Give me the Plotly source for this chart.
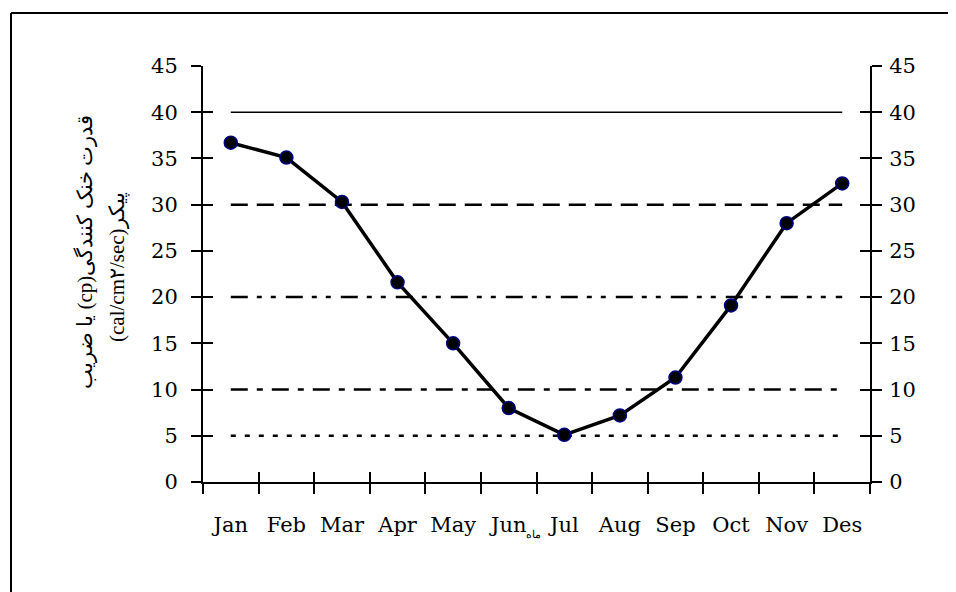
import plotly.graph_objects as go

months = ["Jan", "Feb", "Mar", "Apr", "May", "Jun", "Jul", "Aug", "Sep", "Oct", "Nov", "Des"]
cooling_power = [36.7, 35.1, 30.3, 21.6, 15.0, 8.0, 5.1, 7.2, 11.3, 19.1, 28.0, 32.3]
ref_levels = [40, 30, 20, 10, 5]
ref_dashes = ["solid", "17px,9px", "17px,9px,5px,9px,5px,10px", "17px,9px,6px,9px", "5px,9px"]
ref_widths = [1.5, 2.5, 2.5, 2.5, 2.5]
y_ticks = [0, 5, 10, 15, 20, 25, 30, 35, 40, 45]

FONT = "Liberation Serif, Times New Roman, serif"
TICKFONT = "DejaVu Serif, serif"

# page body has an 8px default margin; plot area should land at x 203..870, y 66..482
PL, PT, PW, PH = 203, 66, 667, 416

def px_x(x):
    return (x - PL) / PW

def px_y(y):
    return (PT + PH - y) / PH

fig = go.Figure()

for lvl, dsh, w in zip(ref_levels, ref_dashes, ref_widths):
    fig.add_trace(go.Scatter(
        x=[months[0], months[-1]], y=[lvl, lvl], mode="lines",
        line=dict(color="black", width=w, dash=dsh),
        showlegend=False, hoverinfo="skip"))

fig.add_trace(go.Scatter(
    x=months, y=cooling_power, mode="lines+markers",
    line=dict(color="black", width=3.5),
    marker=dict(size=13, color="black", line=dict(color="#000080", width=1.5)),
    showlegend=False))

# dummy traces to register overlay axes (for crossing ticks)
fig.add_trace(go.Scatter(x=[None], y=[None], xaxis="x2", yaxis="y2", showlegend=False, hoverinfo="skip"))
fig.add_trace(go.Scatter(x=[None], y=[None], xaxis="x2", yaxis="y3", showlegend=False, hoverinfo="skip"))
fig.add_trace(go.Scatter(x=[None], y=[None], xaxis="x2", yaxis="y4", showlegend=False, hoverinfo="skip"))

common_y = dict(range=[0, 45], tickvals=y_ticks, showgrid=False, zeroline=False,
                tickcolor="black", tickwidth=2, ticklen=10,
                tickfont=dict(family=TICKFONT, size=21, color="black"))

fig.update_layout(
    width=948, height=584,
    margin=dict(l=PL - 8, r=948 - (PL - 8) - PW, t=PT - 8, b=584 - (PT - 8) - PH, pad=0),
    paper_bgcolor="white", plot_bgcolor="white",
    xaxis=dict(type="category", categoryorder="array", categoryarray=months,
               range=[-0.5, 11.5], tickson="boundaries", ticks="outside",
               ticklen=10, tickwidth=2, tickcolor="black", tickangle=0,
               showline=True, linecolor="black", linewidth=2,
               showgrid=False, zeroline=False, ticklabelstandoff=23,
               tickfont=dict(family=TICKFONT, size=21, color="black")),
    xaxis2=dict(overlaying="x", range=[0, 12], dtick=1, tick0=0, ticks="inside",
                ticklen=10, tickwidth=2, tickcolor="black", showticklabels=False,
                showgrid=False, zeroline=False, showline=False, anchor="y"),
    yaxis=dict(**common_y, side="left", ticks="outside", showline=True,
               linecolor="black", linewidth=2, ticklabelstandoff=9),
    yaxis2=dict(**common_y, overlaying="y", side="left", ticks="inside",
                showticklabels=False, showline=False, anchor="x2"),
    yaxis3=dict(**common_y, overlaying="y", side="right", ticks="outside",
                showline=True, linecolor="black", linewidth=2, anchor="x2",
                ticklabelstandoff=3),
    yaxis4=dict(**common_y, overlaying="y", side="right", ticks="inside",
                showticklabels=False, showline=False, anchor="x2"),
)

fig.add_annotation(text="\u202bقدرت خنک کنندگی(cp) یا ضریب\u202c",
                   xref="paper", yref="paper", x=px_x(85), y=px_y(252),
                   textangle=-90, showarrow=False, xanchor="center", yanchor="middle",
                   font=dict(family=FONT, size=21, color="black"))
fig.add_annotation(text="\u202bپیکر(cal/cm۲/sec)\u202c",
                   xref="paper", yref="paper", x=px_x(117), y=px_y(267),
                   textangle=-90, showarrow=False, xanchor="center", yanchor="middle",
                   font=dict(family=FONT, size=21, color="black"))
fig.add_annotation(text="ماه", xref="paper", yref="paper",
                   x=px_x(533), y=px_y(534),
                   showarrow=False, xanchor="center", yanchor="middle",
                   font=dict(family=FONT, size=11, color="black"))

# outer frame: only left and top edges are visible in the reference
fig.add_shape(type="line", xref="paper", yref="paper",
              x0=px_x(11), x1=px_x(11), y0=-0.4, y1=px_y(13),
              line=dict(color="black", width=2), layer="below")
fig.add_shape(type="line", xref="paper", yref="paper",
              x0=px_x(11), x1=1.3, y0=px_y(13), y1=px_y(13),
              line=dict(color="black", width=2), layer="below")

fig.write_html("out.html")
